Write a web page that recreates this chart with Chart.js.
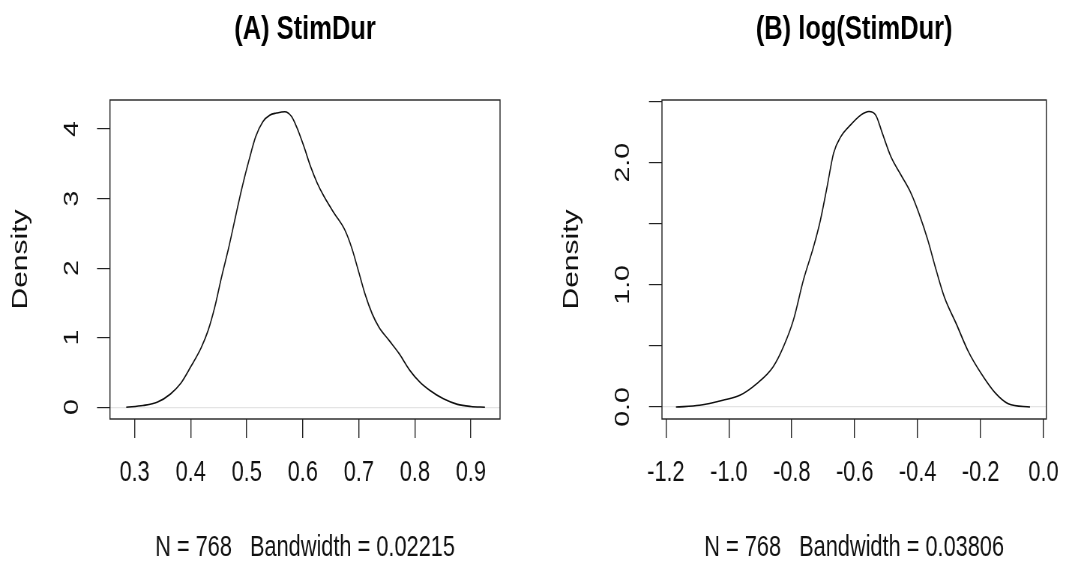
<!DOCTYPE html>
<html>
<head>
<meta charset="utf-8">
<script src="https://cdn.jsdelivr.net/npm/chart.js@4.4.1/dist/chart.umd.min.js"></script>
<style>
  html, body { margin: 0; padding: 0; background: #fff; overflow: hidden; width: 1072px; height: 565px; }
  /* o original está comprimido na horizontal; cada painel é desenhado mais largo e comprimido */
  .painel { position: absolute; top: 0; width: 715px; height: 565px; transform: scaleX(0.74965); transform-origin: 0 0; }
</style>
</head>
<body>
<div class="painel" style="left:0"><canvas id="graficoA"></canvas></div>
<div class="painel" style="left:536px"><canvas id="graficoB"></canvas></div>
<script>
// (A) StimDur - densidade
const densXA = [0.285, 0.315, 0.340, 0.364, 0.382, 0.400, 0.419, 0.431, 0.443, 0.455, 0.468, 0.480, 0.492, 0.504,
                0.516, 0.529, 0.541, 0.553, 0.568, 0.580, 0.589, 0.602, 0.614, 0.626, 0.638, 0.656, 0.675, 0.687,
                0.699, 0.711, 0.724, 0.736, 0.754, 0.772, 0.791, 0.809, 0.827, 0.851, 0.876, 0.900, 0.925];
const densYA = [0, 0.024, 0.07, 0.19, 0.34, 0.58, 0.86, 1.10, 1.44, 1.87, 2.30, 2.74, 3.17, 3.55,
                3.89, 4.11, 4.20, 4.23, 4.25, 4.18, 4.03, 3.75, 3.46, 3.22, 3.03, 2.79, 2.55, 2.30,
                1.97, 1.63, 1.34, 1.15, 0.96, 0.77, 0.53, 0.36, 0.24, 0.12, 0.04, 0.01, 0];
const xTicksA = [0.3, 0.4, 0.5, 0.6, 0.7, 0.8, 0.9];
const xLabelsA = ['0.3', '0.4', '0.5', '0.6', '0.7', '0.8', '0.9'];
const yTicksA = [0, 1, 2, 3, 4];
const yLabelsA = ['0', '1', '2', '3', '4'];
const xLimA = [0.256, 0.952];
const yLimA = [-0.17, 4.418];
const tituloA = '(A) StimDur';
const rodapeA = 'N = 768   Bandwidth = 0.02215';

// (B) log(StimDur)
const densXB = [-1.168, -1.093, -1.019, -0.965, -0.912, -0.859, -0.827, -0.795, -0.763, -0.731, -0.709, -0.688,
                -0.667, -0.645, -0.613, -0.581, -0.555, -0.533, -0.512, -0.485, -0.453, -0.421, -0.395, -0.368,
                -0.341, -0.315, -0.277, -0.240, -0.197, -0.155, -0.112, -0.043];
const densYB = [0, 0.014, 0.055, 0.096, 0.19, 0.33, 0.49, 0.71, 1.04, 1.31, 1.53, 1.80,
                2.08, 2.21, 2.31, 2.39, 2.42, 2.39, 2.24, 2.05, 1.90, 1.75, 1.58, 1.37,
                1.12, 0.90, 0.68, 0.46, 0.27, 0.12, 0.027, 0];
const xTicksB = [-1.2, -1.0, -0.8, -0.6, -0.4, -0.2, 0.0];
const xLabelsB = ['-1.2', '-1.0', '-0.8', '-0.6', '-0.4', '-0.2', '0.0'];
const yTicksB = [0, 0.5, 1, 1.5, 2, 2.5];
const yLabelsB = ['0.0', '', '1.0', '', '2.0', ''];
const xLimB = [-1.2125, 0.009];
const yLimB = [-0.098, 2.514];
const tituloB = '(B) log(StimDur)';
const rodapeB = 'N = 768   Bandwidth = 0.03806';

const FONTE = "'Liberation Sans', Arial, Helvetica, sans-serif";

// desenha a caixa em volta da área do gráfico (como o box() do R)
const caixa = {
    id: 'caixa',
    afterDatasetsDraw(chart) {
        const a = chart.chartArea;
        const ctx = chart.ctx;
        ctx.save();
        ctx.strokeStyle = '#222';
        ctx.lineWidth = 1.4;
        ctx.strokeRect(a.left, a.top, a.right - a.left, a.bottom - a.top);
        ctx.restore();
    }
};

function criarPainel(id, cfg) {
    const ctx = document.getElementById(id).getContext('2d');
    return new Chart(ctx, {
        type: 'line',
        data: {
            datasets: [{
                data: cfg.xs.map((x, i) => ({ x: x, y: cfg.ys[i] })),
                borderColor: '#111',
                borderWidth: 1.6,
                pointRadius: 0,
                fill: false,
                cubicInterpolationMode: 'monotone'
            }]
        },
        options: {
            responsive: true,
            maintainAspectRatio: false,
            animation: false,
            layout: { padding: { left: 0, right: cfg.padRight, top: 0, bottom: 0 } },
            plugins: {
                legend: { display: false },
                tooltip: { enabled: false },
                title: {
                    display: true,
                    text: cfg.titulo,
                    fullSize: false,
                    color: '#000',
                    font: { family: FONTE, size: 34, weight: 'bold' },
                    padding: { top: 9.6, bottom: 49.6 }
                }
            },
            scales: {
                x: {
                    type: 'linear',
                    min: cfg.xLim[0],
                    max: cfg.xLim[1],
                    afterBuildTicks: ax => { ax.ticks = cfg.xTicks.map(v => ({ value: v })); },
                    afterFit: ax => { ax.height = 146; },
                    border: { display: false },
                    grid: { drawOnChartArea: false, tickColor: '#222', tickLength: 19, lineWidth: 1.4 },
                    ticks: {
                        autoSkip: false,
                        maxRotation: 0,
                        padding: 17.6,
                        color: '#111',
                        font: { family: FONTE, size: 29 },
                        callback: (v, i) => cfg.xLabels[i]
                    },
                    title: {
                        display: true,
                        text: cfg.rodape,
                        color: '#111',
                        font: { family: FONTE, size: 29 },
                        padding: { top: 0, bottom: 0 }
                    }
                },
                y: {
                    type: 'linear',
                    min: cfg.yLim[0],
                    max: cfg.yLim[1],
                    afterBuildTicks: ax => { ax.ticks = cfg.yTicks.map(v => ({ value: v })); },
                    afterFit: ax => { ax.width = cfg.yWidth; },
                    border: { display: false },
                    grid: {
                        drawOnChartArea: true,
                        color: c => (c.tick && c.tick.value === 0) ? '#e4e4e4' : 'rgba(0,0,0,0)',
                        tickColor: '#222',
                        tickLength: 17.3,
                        lineWidth: 1.2
                    },
                    ticks: {
                        autoSkip: false,
                        minRotation: 90,
                        maxRotation: 90,
                        crossAlign: 'center',
                        padding: cfg.yPad,
                        color: '#111',
                        font: { family: FONTE, size: 28.5 },
                        callback: (v, i) => cfg.yLabels[i]
                    },
                    title: {
                        display: true,
                        text: 'Density',
                        color: '#111',
                        font: { family: FONTE, size: 30 },
                        padding: { top: cfg.titlePad, bottom: 0 }
                    }
                }
            }
        },
        plugins: [caixa]
    });
}

criarPainel('graficoA', {
    xs: densXA, ys: densYA, xTicks: xTicksA, xLabels: xLabelsA, yTicks: yTicksA, yLabels: yLabelsA,
    xLim: xLimA, yLim: yLimA, titulo: tituloA, rodape: rodapeA,
    yWidth: 146.7, padRight: 48, yPad: 25.5, titlePad: 10
});

criarPainel('graficoB', {
    xs: densXB, ys: densYB, xTicks: xTicksB, xLabels: xLabelsB, yTicks: yTicksB, yLabels: yLabelsB,
    xLim: xLimB, yLim: yLimB, titulo: tituloB, rodape: rodapeB,
    yWidth: 168, padRight: 26.7, yPad: 15, titlePad: 30
});
</script>
</body>
</html>
